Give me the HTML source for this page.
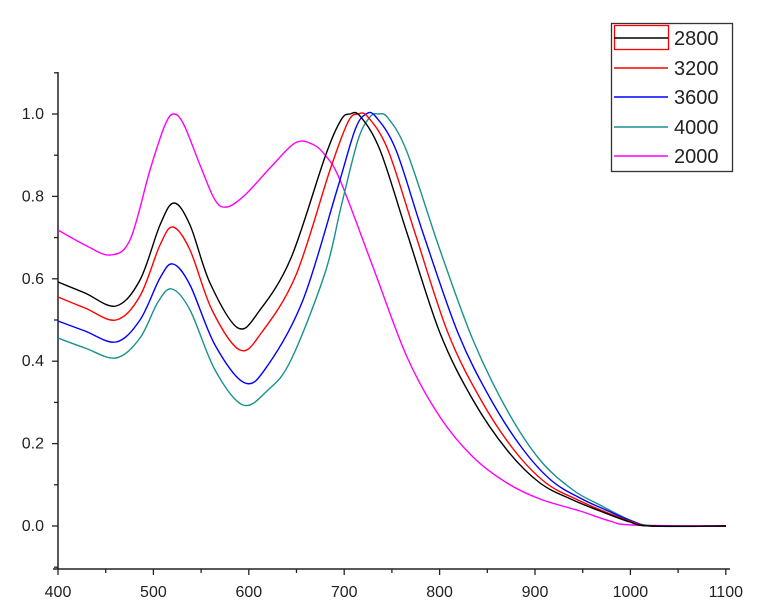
<!DOCTYPE html>
<html><head><meta charset="utf-8"><style>
body{margin:0;background:#fff}
svg{display:block}
text{font-family:"Liberation Sans",sans-serif;fill:#222}
</style></head><body>
<svg id="s" width="775" height="613" viewBox="0 0 775 613" xmlns="http://www.w3.org/2000/svg">
<g stroke="#222" stroke-width="1.5" fill="none">
<line x1="58" y1="72" x2="58" y2="569"/>
<line x1="53" y1="569" x2="730" y2="569"/>
</g>
<g id="ticks" stroke="#222" stroke-width="1.3"></g>
<g id="labels" font-size="16"></g>
<g id="curves" fill="none" stroke-width="1.4"></g>
<rect x="611.5" y="23.5" width="121" height="148" fill="#fff" stroke="#333" stroke-width="1.3"/>
<rect x="614.5" y="25.5" width="54" height="24" fill="none" stroke="#f00" stroke-width="1.3"/>
<g stroke-width="1.5">
<line x1="614" y1="38" x2="668" y2="38" stroke="#000"/>
<line x1="614" y1="68" x2="668" y2="68" stroke="#f00"/>
<line x1="614" y1="97" x2="668" y2="97" stroke="#00f"/>
<line x1="614" y1="127" x2="668" y2="127" stroke="#1a9090"/>
<line x1="614" y1="156" x2="668" y2="156" stroke="#f0f"/>
</g>
<g font-size="20">
<text x="674" y="45">2800</text>
<text x="674" y="75">3200</text>
<text x="674" y="104">3600</text>
<text x="674" y="134">4000</text>
<text x="674" y="163">2000</text>
</g>
</svg>
<script>
const NS="http://www.w3.org/2000/svg";
function el(p,t,a,txt){const e=document.createElementNS(NS,t);for(const k in a)e.setAttribute(k,a[k]);if(txt)e.textContent=txt;document.getElementById(p).appendChild(e);}
for(let w=400;w<=1100;w+=50){const x=58+(w-400)*0.954;const maj=w%100==0;
el("ticks","line",{x1:x,y1:569,x2:x,y2:maj?575:573});
if(maj)el("labels","text",{x:x,y:597,"text-anchor":"middle"},String(w));}
for(let i=-1;i<=11;i++){const y=526-i*41.2;if(y<72||y>569)continue;const maj=i%2==0;
el("ticks","line",{x1:maj?52:54,y1:y,x2:58,y2:y});
if(maj&&i>=0)el("labels","text",{x:44,y:y+5,"text-anchor":"end"},(i/10).toFixed(1));}
function path(p){let d="M"+p[0][0]+","+p[0][1];for(let i=0;i<p.length-1;i++){const a=p[Math.max(0,i-1)],b=p[i],c=p[i+1],e=p[Math.min(p.length-1,i+2)];
const c1=[b[0]+(c[0]-a[0])/6,b[1]+(c[1]-a[1])/6],c2=[c[0]-(e[0]-b[0])/6,c[1]-(e[1]-b[1])/6];
d+=" C"+c1.join(",")+" "+c2.join(",")+" "+c.join(",");}return d;}
const S={
"#f0f":[[58,230],[85,245],[110,255],[130,240],[150,170],[165,125],[174,114],[184,125],[200,165],[215,200],[227,207],[245,195],[270,168],[295,143],[312,144],[325,155],[340,180],[373,267],[407,357],[440,417],[473,457],[507,483],[540,499],[580,511],[610,521],[633,525],[726,526]],
"#1a9090":[[58,338],[85,348],[116,358],[140,338],[158,302],[172,289],[190,310],[215,370],[243,405],[268,390],[291,360],[325,273],[341,207],[358,140],[370,117],[378,114],[388,118],[407,152],[440,250],[473,340],[507,410],[540,460],[573,490],[600,505],[630,520],[655,526],[726,526]],
"#00f":[[58,321],[85,331],[116,342],[140,320],[160,278],[173,264],[190,285],[215,345],[245,383],[268,365],[303,300],[337,190],[355,130],[366,114],[376,117],[396,150],[423,233],[458,333],[490,398],[522,448],[552,481],[582,499],[606,510],[634,522],[654,526],[726,526]],
"#f00":[[58,297],[85,308],[116,320],[140,296],[160,245],[173,227],[190,250],[212,310],[240,350],[262,332],[296,275],[330,170],[348,122],[358,114],[368,117],[388,150],[415,233],[448,333],[481,400],[514,450],[546,483],[578,500],[603,511],[632,522],[652,526],[726,526]],
"#000":[[58,282],[85,293],[116,306],[140,280],[160,225],[174,203],[190,225],[210,283],[238,328],[260,310],[291,258],[325,157],[341,120],[350,114],[360,116],[380,150],[407,233],[440,333],[473,400],[507,450],[540,483],[573,500],[600,511],[630,522],[650,526],[726,526]]};
for(const c in S)el("curves","path",{d:path(S[c]),stroke:c});
</script>
</body></html>
